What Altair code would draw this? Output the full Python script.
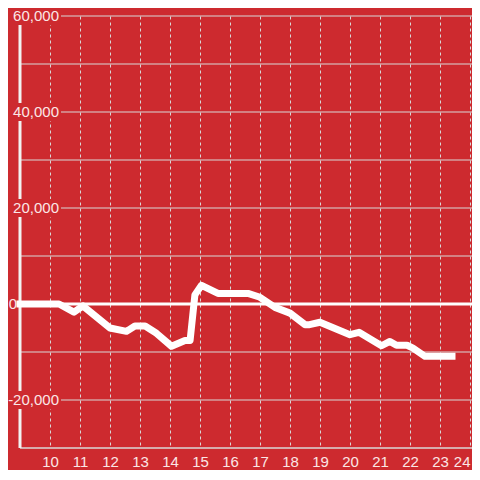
import altair as alt
import pandas as pd

# ---- data ----
hours = [9, 10.3, 10.8, 11.1, 12.0, 12.55, 12.83, 13.17, 13.55, 14.05, 14.5, 14.67,
         14.83, 15.05, 15.6, 16.6, 17.0, 17.5, 18.0, 18.5, 18.65, 19.0, 20.0, 20.3,
         21.05, 21.33, 21.55, 21.9, 22.1, 22.5, 23.4]
values = [0, 0, -1700, -400, -5000, -5700, -4600, -4600, -6100, -8800, -7600, -7600,
          1900, 3900, 2200, 2200, 1400, -700, -1900, -4300, -4300, -3800, -6400, -5900,
          -8700, -7800, -8600, -8600, -9200, -10900, -10900]

x_ticks = list(range(10, 25))
grid_y = [-20000, -10000, 10000, 20000, 30000, 40000, 50000, 60000]
label_y = [60000, 40000, 20000, -20000]
label_text = ["60,000", "40,000", "20,000", "-20,000"]
zero_label = ["0"]

BG = "#cd2a2f"
GRID = "#d8d8d8"
TXT = "#fbe6e6"
FONT = "Liberation Sans"

line_df = pd.DataFrame({"hour": hours, "value": values})
xscale = alt.Scale(domain=[9, 24.0667], nice=False, zero=False)
yscale = alt.Scale(domain=[-30000, 60000], nice=False, zero=False)
xaxis = alt.Axis(values=x_ticks, grid=True, gridDash=[3, 3], gridColor=GRID,
                 gridWidth=1, gridOpacity=1, ticks=False, domain=False, title=None,
                 labelColor=TXT, labelFont=FONT, labelFontSize=15,
                 labelPadding=6, labelFlush=4)

X = lambda f: alt.X(f, scale=xscale, axis=xaxis)
Y = lambda f: alt.Y(f, scale=yscale, axis=None)

hgrid = alt.Chart(pd.DataFrame({"v": grid_y})).mark_rule(color=GRID, strokeWidth=1).encode(
    y=Y("v:Q")
)
bottom = alt.Chart(pd.DataFrame({"v": [-30000]})).mark_rule(color=GRID, strokeWidth=1.5).encode(
    y=Y("v:Q")
)
zero = alt.Chart(pd.DataFrame({"v": [0]})).mark_rule(color="white", strokeWidth=3).encode(
    y=Y("v:Q")
)
yaxis_line = alt.Chart(pd.DataFrame({"h": [9]})).mark_rule(color="#f2f2f2", strokeWidth=3).encode(
    x=X("h:Q")
)

lab_df = pd.DataFrame({"v": label_y, "t": label_text})
boxes = alt.Chart(lab_df).mark_tick(color=BG, opacity=1, orient="horizontal",
                                    size=54, thickness=18).encode(
    y=Y("v:Q"),
    x=alt.value(14),
)
labels = alt.Chart(lab_df).mark_text(align="right", baseline="middle", font=FONT,
                                     fontSize=15, color=TXT).encode(
    y=Y("v:Q"),
    x=alt.value(39),
    text="t:N",
)
zlabel = alt.Chart(pd.DataFrame({"v": [0], "t": zero_label})).mark_text(
    align="center", baseline="middle", font=FONT, fontSize=15, color=TXT).encode(
    y=Y("v:Q"),
    x=alt.value(-7),
    text="t:N",
)

line = alt.Chart(line_df).mark_line(color="white", strokeWidth=7, strokeCap="square",
                                    strokeJoin="round").encode(
    x=X("hour:Q"),
    y=Y("value:Q"),
)

chart = alt.layer(hgrid, bottom, zero, yaxis_line, boxes, labels, zlabel, line).properties(
    width=452, height=432,
    padding={"left": 12, "top": 8, "right": 0, "bottom": 22},
    autosize=alt.AutoSizeParams(type="none"),
    background=BG,
).configure_view(stroke=None)

chart.save("out.html", embed_options={"renderer": "svg", "actions": False})
